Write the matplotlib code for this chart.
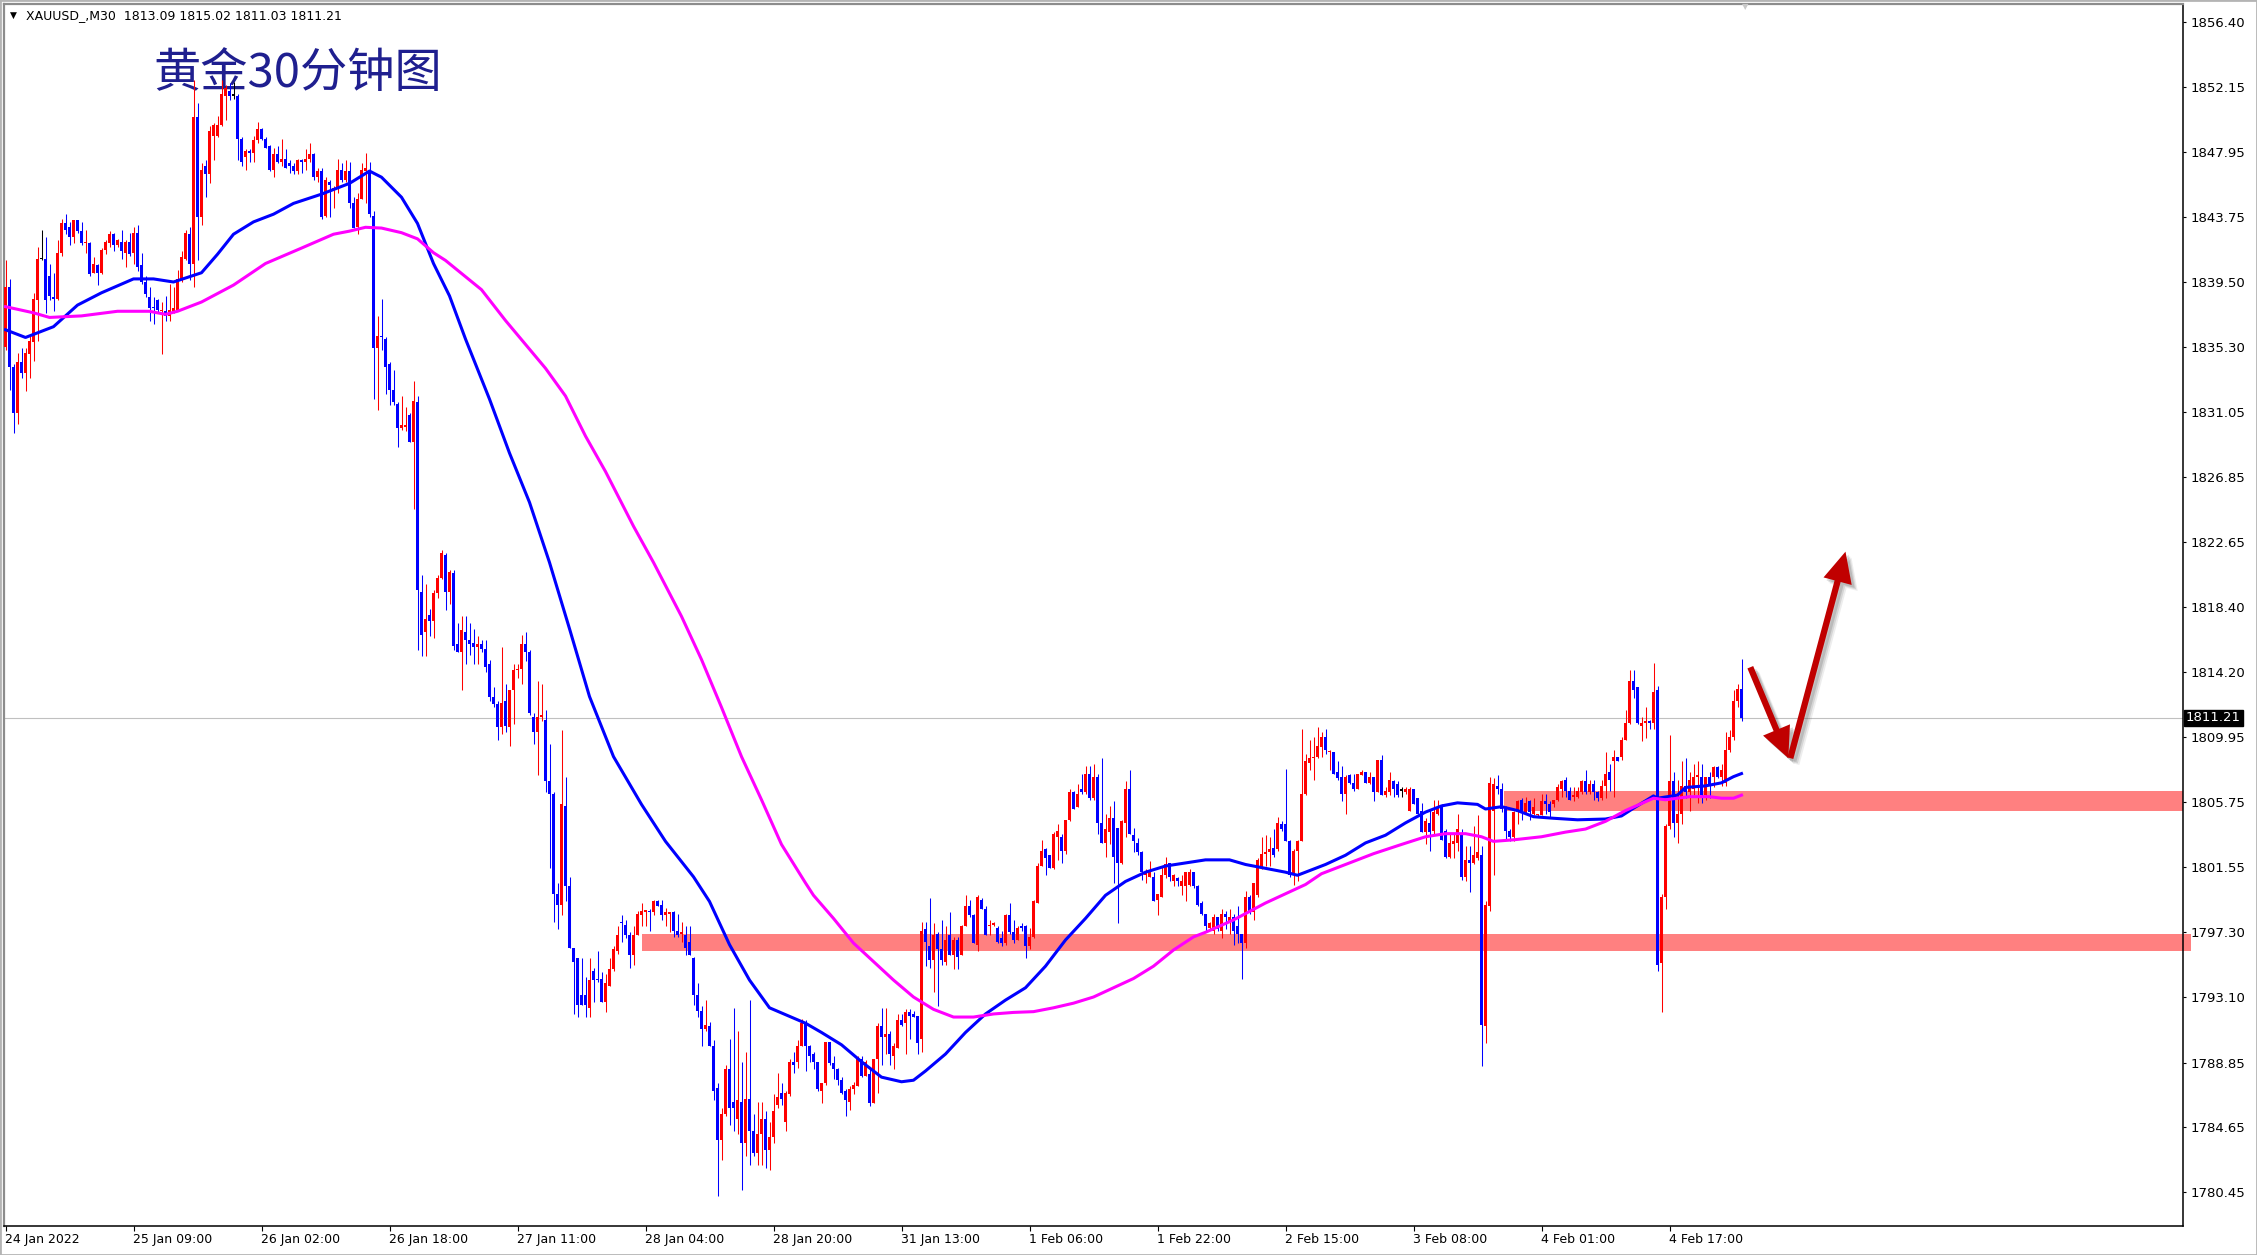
import numpy as np
import matplotlib
matplotlib.use('Agg')
import matplotlib.pyplot as plt
import matplotlib.transforms as mtransforms
from matplotlib.patches import Rectangle, FancyArrowPatch

# XAUUSD M30 bars, 24 Jan - 4 Feb 2022
opens = [
    1835.3, 1839.2, 1834.0, 1831.0, 1834.3, 1833.6, 1834.8, 1835.6, 1838.3, 1841.0,
    1841.0, 1839.9, 1838.5, 1838.4, 1841.4, 1843.3, 1843.1, 1842.4, 1843.5, 1842.8,
    1842.0, 1842.0, 1840.1, 1840.6, 1840.1, 1841.6, 1842.0, 1842.6, 1841.9, 1842.1,
    1841.4, 1842.1, 1841.4, 1842.7, 1840.6, 1839.5, 1838.5, 1837.9, 1838.3, 1837.6,
    1837.6, 1837.3, 1837.6, 1837.7, 1839.7, 1841.0, 1842.6, 1840.7, 1850.2, 1843.7,
    1847.0, 1846.5, 1849.0, 1849.0, 1849.7, 1851.6, 1851.9, 1851.6, 1851.6, 1848.8,
    1847.6, 1848.0, 1847.9, 1848.7, 1849.4, 1848.8, 1848.3, 1846.8, 1847.8, 1847.3,
    1847.5, 1847.2, 1847.0, 1846.7, 1847.4, 1847.3, 1847.5, 1847.8, 1846.3, 1846.7,
    1843.8, 1846.0, 1845.5, 1845.6, 1846.8, 1846.1, 1846.7, 1844.6, 1843.1, 1844.9,
    1846.7, 1846.8, 1843.8, 1835.2, 1836.0, 1835.8, 1834.2, 1832.5, 1831.6, 1830.0,
    1830.1, 1830.9, 1829.1, 1831.7, 1819.4, 1816.8, 1817.9, 1817.5, 1819.3, 1820.3,
    1821.8, 1819.4, 1820.6, 1816.0, 1815.5, 1816.8, 1816.3, 1816.1, 1815.8, 1816.0,
    1815.7, 1814.7, 1812.6, 1812.1, 1810.6, 1812.3, 1810.6, 1813.0, 1814.3, 1814.4,
    1816.0, 1815.5, 1811.3, 1810.3, 1811.3, 1811.1, 1807.1, 1806.3, 1799.8, 1799.1,
    1805.5, 1800.3, 1796.3, 1795.6, 1793.2, 1793.2, 1792.4, 1794.8, 1794.3, 1794.3,
    1792.8, 1793.8, 1794.9, 1796.1, 1798.0, 1797.8, 1797.1, 1795.8, 1797.1, 1798.4,
    1798.6, 1798.7, 1798.6, 1799.3, 1799.1, 1798.4, 1798.5, 1798.6, 1797.4, 1797.2,
    1797.1, 1796.7, 1795.6, 1793.2, 1792.2, 1791.0, 1791.2, 1789.9, 1787.2, 1783.8,
    1785.5, 1788.4, 1786.3, 1785.2, 1786.3, 1783.6, 1786.5, 1784.4, 1783.0, 1784.2,
    1785.2, 1783.2, 1784.0, 1786.1, 1786.9, 1785.0, 1786.8, 1788.9, 1788.9, 1789.9,
    1791.4, 1789.9, 1789.4, 1788.9, 1787.0, 1787.5, 1790.2, 1788.8, 1788.4, 1787.7,
    1787.0, 1786.3, 1787.1, 1787.3, 1789.1, 1788.0, 1788.1, 1786.2, 1789.1, 1791.2,
    1790.5, 1790.7, 1789.3, 1789.8, 1791.6, 1791.4, 1792.1, 1792.0, 1791.9, 1790.4,
    1797.5, 1796.4, 1795.5, 1797.2, 1796.2, 1795.4, 1797.1, 1795.8, 1796.8, 1795.8,
    1797.7, 1799.0, 1798.4, 1796.5, 1799.4, 1798.8, 1797.7, 1797.8, 1797.6, 1796.9,
    1796.6, 1798.4, 1797.3, 1796.8, 1797.7, 1797.7, 1796.4, 1797.0, 1799.2, 1801.6,
    1802.7, 1802.3, 1801.5, 1803.5, 1803.5, 1802.6, 1804.6, 1806.4, 1805.4, 1806.6,
    1806.4, 1807.6, 1806.0, 1807.4, 1804.4, 1803.1, 1803.8, 1804.7, 1804.1, 1801.8,
    1804.4, 1806.6, 1803.6, 1803.1, 1802.5, 1801.0, 1800.9, 1800.9, 1799.4, 1799.6,
    1801.0, 1801.8, 1800.6, 1800.8, 1800.3, 1800.3, 1800.4, 1801.2, 1800.3, 1799.2,
    1798.5, 1797.6, 1797.4, 1798.3, 1797.4, 1798.5, 1797.9, 1798.3, 1797.7, 1797.2,
    1796.6, 1799.6, 1798.6, 1799.7, 1801.6, 1802.4, 1802.5, 1802.8, 1802.7, 1804.3,
    1804.3, 1803.2, 1801.0, 1802.6, 1803.2, 1806.3, 1808.3, 1808.6, 1808.7, 1809.3,
    1810.0, 1809.0, 1809.0, 1807.7, 1807.4, 1806.3, 1807.5, 1807.0, 1806.6, 1807.5,
    1807.7, 1807.0, 1807.4, 1806.4, 1808.5, 1806.2, 1806.4, 1807.1, 1806.9, 1806.5,
    1806.4, 1805.2, 1806.6, 1806.0, 1805.2, 1803.8, 1804.4, 1803.9, 1805.0, 1805.4,
    1803.9, 1802.2, 1803.0, 1803.1, 1803.6, 1800.9, 1802.0, 1801.8, 1802.1, 1802.3,
    1791.2, 1799.0, 1805.2, 1806.8, 1806.6, 1805.3, 1803.9, 1803.5, 1805.1, 1805.9,
    1805.1, 1805.8, 1805.0, 1804.9, 1804.9, 1805.8, 1805.6, 1805.6, 1805.9, 1806.6,
    1807.2, 1806.5, 1806.1, 1806.1, 1806.4, 1807.1, 1806.4, 1806.9, 1806.4, 1806.0,
    1806.8, 1807.7, 1808.4, 1808.7, 1808.7, 1809.8, 1810.9, 1813.6, 1813.2, 1810.7,
    1810.9, 1811.0, 1810.9, 1813.0, 1795.3, 1799.6, 1804.2, 1807.1, 1804.4, 1805.0,
    1806.8, 1806.4, 1806.6, 1807.4, 1807.4, 1806.2, 1807.4, 1807.4, 1808.0, 1807.4,
    1807.0, 1809.1, 1810.0, 1812.3, 1813.09,
]
highs = [
    1840.9, 1839.7, 1834.2, 1834.9, 1835.2, 1835.2, 1836.0, 1838.8, 1841.8, 1842.9,
    1842.4, 1840.7, 1840.1, 1842.2, 1843.6, 1843.9, 1843.4, 1843.5, 1843.5, 1843.4,
    1842.9, 1842.1, 1841.1, 1840.7, 1841.7, 1842.2, 1842.8, 1842.7, 1842.3, 1842.9,
    1842.2, 1842.7, 1843.1, 1843.2, 1841.4, 1839.9, 1839.2, 1838.5, 1838.4, 1838.2,
    1838.6, 1839.4, 1839.2, 1840.3, 1841.5, 1842.9, 1843.1, 1852.6, 1851.1, 1847.2,
    1847.4, 1849.6, 1849.8, 1850.3, 1852.6, 1852.3, 1852.4, 1852.5, 1851.7, 1848.9,
    1848.1, 1848.1, 1849.0, 1849.9, 1849.5, 1848.9, 1848.4, 1848.2, 1848.3, 1848.8,
    1848.1, 1847.4, 1847.2, 1847.5, 1847.5, 1848.1, 1848.5, 1847.9, 1846.9, 1846.9,
    1846.3, 1846.1, 1845.7, 1847.5, 1847.2, 1847.4, 1847.3, 1845.0, 1845.3, 1847.2,
    1847.9, 1847.3, 1844.1, 1837.3, 1838.4, 1835.9, 1834.3, 1833.8, 1831.7, 1832.1,
    1831.4, 1831.0, 1833.1, 1832.1, 1820.5, 1819.9, 1818.3, 1819.5, 1820.5, 1822.1,
    1821.9, 1820.8, 1820.8, 1817.4, 1817.8, 1817.8, 1817.4, 1817.0, 1816.5, 1816.3,
    1816.3, 1815.0, 1813.2, 1812.3, 1815.8, 1813.4, 1813.0, 1814.7, 1814.7, 1816.6,
    1816.8, 1815.6, 1811.5, 1813.6, 1813.4, 1811.7, 1809.5, 1806.4, 1800.5, 1810.4,
    1807.4, 1800.9, 1796.3, 1795.6, 1795.6, 1794.4, 1795.6, 1795.0, 1796.1, 1794.7,
    1794.6, 1795.6, 1796.4, 1797.7, 1798.4, 1798.1, 1797.3, 1797.7, 1798.7, 1799.2,
    1798.7, 1798.8, 1799.4, 1799.4, 1799.4, 1798.9, 1798.6, 1798.7, 1798.5, 1798.0,
    1797.7, 1797.7, 1795.7, 1794.0, 1792.5, 1792.9, 1791.5, 1790.3, 1787.5, 1785.9,
    1788.7, 1790.4, 1792.4, 1790.9, 1788.9, 1789.5, 1792.9, 1785.5, 1786.3, 1786.3,
    1785.7, 1785.0, 1786.8, 1788.2, 1787.5, 1787.0, 1789.1, 1789.5, 1790.3, 1791.7,
    1791.6, 1790.0, 1789.5, 1788.9, 1787.5, 1790.2, 1790.2, 1789.3, 1788.5, 1787.9,
    1787.1, 1787.3, 1787.6, 1789.3, 1789.3, 1789.0, 1788.5, 1789.1, 1791.4, 1792.4,
    1792.4, 1790.9, 1790.1, 1792.0, 1792.0, 1792.3, 1792.3, 1792.2, 1791.9, 1798.0,
    1798.0, 1799.5, 1797.9, 1797.3, 1798.1, 1797.7, 1798.6, 1797.0, 1797.0, 1797.8,
    1799.7, 1799.4, 1798.5, 1799.7, 1799.5, 1799.0, 1798.1, 1798.0, 1797.7, 1797.4,
    1798.5, 1799.2, 1798.1, 1797.7, 1797.9, 1797.8, 1797.6, 1799.4, 1801.8, 1803.3,
    1802.8, 1802.3, 1803.8, 1804.3, 1803.7, 1804.6, 1806.6, 1806.5, 1806.9, 1807.6,
    1808.1, 1808.1, 1808.2, 1807.6, 1808.6, 1805.0, 1805.5, 1805.8, 1804.1, 1804.6,
    1807.1, 1807.8, 1804.1, 1803.4, 1802.6, 1801.4, 1801.9, 1801.2, 1799.8, 1801.6,
    1802.2, 1801.8, 1801.1, 1800.9, 1801.0, 1801.2, 1801.4, 1801.2, 1800.4, 1799.3,
    1798.5, 1798.0, 1798.5, 1798.3, 1798.8, 1798.7, 1798.8, 1798.5, 1799.0, 1797.2,
    1800.0, 1799.7, 1800.5, 1802.1, 1803.5, 1803.6, 1803.5, 1804.0, 1804.8, 1804.5,
    1807.9, 1803.3, 1802.7, 1803.3, 1810.5, 1808.9, 1809.8, 1810.0, 1810.6, 1810.3,
    1810.5, 1809.1, 1809.0, 1808.4, 1808.1, 1807.5, 1807.6, 1807.6, 1807.6, 1807.8,
    1807.7, 1807.7, 1807.4, 1808.5, 1808.8, 1806.7, 1807.7, 1807.2, 1807.1, 1806.7,
    1806.7, 1806.7, 1806.6, 1806.0, 1805.7, 1804.7, 1805.3, 1805.9, 1805.9, 1805.6,
    1804.0, 1803.7, 1803.7, 1805.0, 1804.0, 1802.9, 1802.9, 1804.2, 1804.9, 1802.9,
    1799.3, 1807.4, 1807.3, 1807.5, 1807.0, 1805.5, 1804.0, 1805.2, 1805.9, 1806.0,
    1806.1, 1805.9, 1806.0, 1805.0, 1806.3, 1806.3, 1805.8, 1805.9, 1806.9, 1807.2,
    1807.4, 1806.7, 1806.7, 1806.7, 1807.2, 1807.8, 1807.2, 1807.2, 1806.5, 1807.2,
    1809.0, 1808.2, 1809.1, 1808.7, 1810.0, 1811.7, 1814.3, 1814.3, 1813.2, 1811.3,
    1811.9, 1811.1, 1814.8, 1813.3, 1799.8, 1804.3, 1810.1, 1807.7, 1807.2, 1808.4,
    1808.6, 1807.7, 1808.2, 1808.4, 1808.2, 1807.4, 1807.7, 1808.1, 1808.1, 1808.2,
    1810.3, 1810.4, 1813.0, 1813.4, 1815.02,
]
lows = [
    1835.1, 1832.5, 1829.7, 1830.3, 1833.3, 1832.4, 1833.3, 1834.4, 1835.7, 1840.9,
    1837.5, 1838.3, 1837.6, 1838.3, 1841.2, 1842.6, 1841.9, 1842.0, 1842.7, 1841.9,
    1841.4, 1839.9, 1840.1, 1839.3, 1840.0, 1841.3, 1841.8, 1841.5, 1841.8, 1841.0,
    1840.5, 1841.2, 1840.7, 1840.2, 1839.4, 1838.5, 1837.0, 1836.8, 1837.5, 1834.8,
    1837.0, 1837.0, 1837.5, 1837.6, 1839.5, 1840.9, 1839.6, 1839.2, 1840.9, 1843.2,
    1845.0, 1845.9, 1847.4, 1848.9, 1849.6, 1850.0, 1851.3, 1851.4, 1847.4, 1847.0,
    1846.8, 1847.3, 1847.3, 1848.5, 1848.7, 1848.2, 1846.7, 1846.3, 1847.2, 1847.0,
    1846.9, 1846.6, 1846.5, 1846.5, 1846.6, 1846.8, 1847.3, 1846.1, 1846.0, 1843.6,
    1843.7, 1843.7, 1844.3, 1845.3, 1846.0, 1846.0, 1844.3, 1843.0, 1842.6, 1844.9,
    1844.6, 1843.7, 1831.9, 1831.2, 1835.1, 1832.2, 1831.5, 1831.5, 1828.8, 1829.9,
    1829.8, 1829.1, 1824.8, 1815.6, 1815.2, 1815.2, 1816.5, 1816.4, 1819.0, 1820.2,
    1818.2, 1818.6, 1815.6, 1815.5, 1813.0, 1814.7, 1815.3, 1814.7, 1814.7, 1815.5,
    1814.2, 1812.3, 1811.9, 1809.8, 1810.2, 1810.3, 1809.4, 1810.8, 1813.8, 1813.4,
    1814.9, 1811.4, 1809.5, 1807.5, 1811.0, 1806.4, 1801.5, 1798.0, 1797.5, 1798.4,
    1799.3, 1796.3, 1792.0, 1791.8, 1792.6, 1791.8, 1791.8, 1792.8, 1794.1, 1792.8,
    1792.1, 1793.8, 1794.8, 1795.9, 1796.7, 1796.9, 1795.0, 1795.2, 1797.1, 1797.7,
    1797.7, 1797.4, 1798.4, 1799.0, 1798.1, 1797.7, 1797.3, 1797.0, 1797.0, 1796.7,
    1795.8, 1795.8, 1792.6, 1791.8, 1789.9, 1790.9, 1789.9, 1786.4, 1780.2, 1782.5,
    1785.4, 1784.8, 1784.4, 1784.2, 1780.6, 1782.8, 1782.2, 1782.8, 1782.2, 1782.2,
    1782.0, 1781.9, 1783.6, 1785.9, 1786.1, 1784.4, 1786.7, 1788.2, 1788.5, 1789.9,
    1788.3, 1788.9, 1788.4, 1787.0, 1786.2, 1787.4, 1788.7, 1787.8, 1787.4, 1786.8,
    1785.4, 1785.8, 1786.8, 1787.3, 1787.9, 1788.0, 1786.0, 1786.2, 1786.9, 1788.7,
    1789.4, 1788.7, 1788.4, 1789.8, 1791.2, 1789.4, 1790.4, 1791.8, 1789.4, 1789.5,
    1795.1, 1795.0, 1793.4, 1792.5, 1795.2, 1795.2, 1795.8, 1794.9, 1794.9, 1795.8,
    1797.7, 1798.3, 1796.6, 1796.1, 1798.8, 1797.1, 1797.1, 1797.7, 1796.6, 1796.4,
    1796.5, 1797.2, 1796.6, 1796.8, 1797.4, 1795.6, 1796.2, 1796.9, 1799.2, 1801.6,
    1801.0, 1801.5, 1801.4, 1802.0, 1801.8, 1802.4, 1804.5, 1805.3, 1805.4, 1806.3,
    1806.3, 1805.9, 1805.9, 1803.7, 1803.1, 1802.2, 1803.0, 1800.5, 1797.9, 1801.7,
    1803.5, 1803.7, 1802.5, 1802.3, 1800.7, 1800.5, 1800.9, 1799.3, 1798.4, 1799.6,
    1800.8, 1800.6, 1800.3, 1800.3, 1799.7, 1799.3, 1800.3, 1800.2, 1799.0, 1798.4,
    1797.4, 1797.5, 1797.2, 1797.4, 1796.9, 1797.5, 1797.2, 1796.5, 1796.6, 1794.3,
    1796.3, 1798.5, 1798.1, 1799.6, 1801.4, 1801.6, 1801.6, 1802.2, 1802.6, 1803.9,
    1803.2, 1800.9, 1800.4, 1800.6, 1803.2, 1806.2, 1807.8, 1807.2, 1808.6, 1808.7,
    1808.9, 1807.8, 1807.6, 1807.2, 1805.8, 1805.0, 1806.9, 1806.5, 1806.6, 1807.5,
    1807.0, 1806.9, 1805.8, 1806.4, 1806.2, 1806.1, 1806.2, 1806.1, 1806.1, 1806.1,
    1806.3, 1805.2, 1805.6, 1805.0, 1803.8, 1803.0, 1802.6, 1803.7, 1804.9, 1803.3,
    1802.1, 1802.1, 1802.1, 1802.6, 1800.7, 1800.6, 1799.9, 1801.7, 1802.0, 1788.6,
    1790.1, 1798.7, 1801.0, 1806.3, 1805.1, 1803.3, 1803.2, 1803.2, 1804.3, 1804.6,
    1805.0, 1804.6, 1804.9, 1804.8, 1804.9, 1805.0, 1804.8, 1805.4, 1805.8, 1806.1,
    1806.1, 1805.9, 1805.8, 1806.0, 1806.3, 1806.3, 1806.3, 1805.9, 1805.8, 1805.9,
    1806.0, 1806.5, 1806.1, 1808.4, 1808.5, 1809.8, 1810.8, 1812.5, 1810.8, 1809.7,
    1809.9, 1810.5, 1810.5, 1794.8, 1792.1, 1798.8, 1804.0, 1803.5, 1803.1, 1804.3,
    1806.0, 1805.2, 1806.2, 1805.7, 1805.7, 1805.9, 1806.0, 1806.7, 1807.3, 1806.8,
    1806.8, 1809.0, 1809.8, 1811.9, 1811.03,
]
closes = [
    1839.2, 1834.0, 1831.0, 1834.3, 1833.6, 1834.9, 1835.7, 1838.4, 1841.0, 1841.0,
    1838.3, 1838.6, 1838.4, 1841.4, 1843.3, 1842.9, 1842.4, 1843.5, 1842.8, 1842.0,
    1842.1, 1840.0, 1840.7, 1840.1, 1841.6, 1842.1, 1842.6, 1841.9, 1842.2, 1841.5,
    1842.1, 1841.3, 1842.7, 1840.5, 1839.5, 1838.7, 1837.8, 1837.8, 1837.7, 1837.7,
    1837.3, 1837.7, 1837.8, 1839.7, 1841.1, 1842.7, 1840.7, 1850.2, 1843.7, 1846.8,
    1846.5, 1849.3, 1849.7, 1849.7, 1851.7, 1852.1, 1851.6, 1851.6, 1848.8, 1847.3,
    1848.0, 1847.9, 1848.7, 1849.4, 1848.8, 1848.2, 1846.8, 1847.8, 1847.3, 1847.5,
    1846.9, 1847.0, 1846.7, 1847.4, 1847.3, 1847.5, 1847.8, 1846.3, 1846.7, 1843.7,
    1846.1, 1845.8, 1845.6, 1846.8, 1846.1, 1846.7, 1844.6, 1843.0, 1844.9, 1846.8,
    1846.9, 1843.9, 1835.2, 1836.0, 1835.9, 1834.0, 1832.5, 1831.7, 1830.0, 1830.2,
    1830.2, 1829.1, 1831.8, 1819.5, 1816.6, 1817.6, 1817.5, 1819.3, 1820.3, 1821.9,
    1819.4, 1820.7, 1815.9, 1815.5, 1816.9, 1816.3, 1816.0, 1815.8, 1816.0, 1815.7,
    1814.5, 1812.6, 1812.1, 1810.6, 1812.2, 1810.7, 1813.0, 1814.3, 1814.4, 1816.0,
    1815.5, 1811.5, 1810.3, 1811.3, 1811.4, 1807.1, 1806.3, 1799.8, 1799.1, 1805.6,
    1800.3, 1796.3, 1795.4, 1792.6, 1792.6, 1792.6, 1794.2, 1794.2, 1794.2, 1792.8,
    1794.0, 1794.9, 1796.2, 1797.1, 1797.9, 1797.1, 1795.8, 1797.1, 1798.5, 1798.7,
    1798.75, 1798.6, 1799.3, 1799.0, 1798.4, 1798.6, 1798.6, 1797.4, 1797.1, 1797.3,
    1796.3, 1795.8, 1793.2, 1792.2, 1791.0, 1791.3, 1789.9, 1787.0, 1783.8, 1785.5,
    1788.4, 1785.9, 1785.9, 1786.4, 1783.6, 1786.5, 1784.4, 1783.0, 1784.2, 1785.2,
    1783.2, 1784.0, 1785.7, 1786.6, 1786.5, 1786.9, 1788.9, 1788.7, 1789.9, 1791.4,
    1789.9, 1789.3, 1788.9, 1787.1, 1787.5, 1790.2, 1788.8, 1788.4, 1787.7, 1786.9,
    1786.4, 1787.1, 1787.4, 1789.1, 1788.0, 1788.9, 1786.2, 1789.1, 1791.2, 1790.5,
    1790.7, 1789.4, 1789.9, 1791.6, 1791.3, 1792.1, 1791.9, 1791.8, 1790.1, 1797.4,
    1796.7, 1795.5, 1797.1, 1796.2, 1795.5, 1796.8, 1795.8, 1796.8, 1795.7, 1797.7,
    1799.0, 1798.4, 1796.6, 1799.6, 1798.8, 1797.1, 1797.8, 1797.9, 1796.7, 1796.6,
    1798.4, 1797.3, 1796.8, 1797.6, 1797.6, 1796.4, 1797.0, 1799.3, 1801.6, 1802.6,
    1802.1, 1801.5, 1803.7, 1803.9, 1802.6, 1804.6, 1806.4, 1805.3, 1806.3, 1806.4,
    1807.6, 1806.0, 1807.4, 1804.4, 1803.1, 1804.0, 1804.7, 1802.2, 1801.8, 1804.5,
    1806.6, 1803.7, 1803.2, 1802.5, 1801.2, 1801.2, 1801.3, 1799.3, 1799.8, 1801.0,
    1801.7, 1800.9, 1801.0, 1800.6, 1800.6, 1801.2, 1801.2, 1800.3, 1799.1, 1798.5,
    1797.7, 1797.9, 1798.3, 1797.5, 1798.5, 1798.3, 1798.3, 1797.4, 1797.2, 1796.6,
    1799.6, 1798.6, 1800.5, 1802.0, 1802.4, 1802.5, 1802.7, 1802.3, 1804.4, 1804.0,
    1803.2, 1801.0, 1802.6, 1803.2, 1806.3, 1808.4, 1808.6, 1808.7, 1809.4, 1810.0,
    1809.1, 1809.05, 1807.6, 1807.3, 1806.3, 1807.4, 1807.0, 1806.6, 1807.6, 1807.7,
    1807.0, 1807.4, 1806.4, 1808.5, 1806.2, 1806.5, 1807.2, 1806.6, 1806.2, 1806.5,
    1806.6, 1806.6, 1805.6, 1805.0, 1803.8, 1804.5, 1803.8, 1805.1, 1805.4, 1803.3,
    1802.2, 1803.1, 1803.2, 1804.0, 1800.9, 1802.0, 1801.8, 1802.3, 1802.5, 1791.3,
    1799.1, 1807.0, 1806.9, 1806.6, 1805.3, 1803.9, 1803.5, 1805.1, 1805.8, 1805.1,
    1805.7, 1805.1, 1805.4, 1804.95, 1805.8, 1805.6, 1805.1, 1805.9, 1806.7, 1807.1,
    1806.5, 1805.9, 1806.2, 1806.5, 1807.1, 1806.4, 1806.9, 1806.4, 1806.0, 1806.8,
    1807.6, 1807.2, 1808.7, 1808.4, 1809.8, 1810.9, 1813.6, 1813.0, 1810.9, 1810.9,
    1811.0, 1810.9, 1812.9, 1795.2, 1799.6, 1804.2, 1807.1, 1804.4, 1805.0, 1806.8,
    1806.4, 1807.2, 1807.4, 1807.5, 1806.2, 1807.4, 1806.8, 1808.0, 1807.4, 1807.8,
    1809.1, 1810.0, 1812.3, 1813.1, 1811.21,
]

# moving averages (blue = fast, magenta = slow), sampled at bar indices
fast_ma_idx = [0, 5, 12, 18, 24, 32, 37, 42, 49, 53, 57, 62, 67, 72, 79, 86, 91, 94, 99, 103,
               107, 111, 115, 121, 126, 131, 136, 141, 146, 152, 159, 165, 172, 176, 181, 186,
               191, 200, 204, 209, 214, 219, 224, 227, 230, 235, 240, 245, 250, 255, 260, 265,
               270, 275, 280, 285, 290, 295, 300, 306, 310, 315, 320, 323, 326, 330, 335, 340,
               345, 350, 355, 359, 363, 368, 370, 374, 378, 382, 387, 393, 400, 404, 407, 412,
               413, 418, 420, 425, 429, 432, 434]
fast_ma_val = [1836.4, 1835.9, 1836.6, 1838.0, 1838.8, 1839.7, 1839.7, 1839.5, 1840.1, 1841.3,
               1842.6, 1843.4, 1843.9, 1844.6, 1845.2, 1845.9, 1846.7, 1846.3, 1845.0, 1843.3,
               1840.7, 1838.6, 1835.8, 1831.9, 1828.4, 1825.2, 1821.3, 1817.0, 1812.6, 1808.7,
               1805.6, 1803.2, 1800.9, 1799.3, 1796.5, 1794.2, 1792.4, 1791.4, 1790.8, 1790.0,
               1788.9, 1787.9, 1787.6, 1787.7, 1788.3, 1789.4, 1790.8, 1792.0, 1792.9, 1793.7,
               1795.1, 1796.8, 1798.2, 1799.7, 1800.6, 1801.2, 1801.6, 1801.8, 1802.0, 1802.0,
               1801.7, 1801.45, 1801.2, 1801.0, 1801.3, 1801.7, 1802.3, 1803.1, 1803.6, 1804.4,
               1805.1, 1805.5, 1805.7, 1805.6, 1805.3, 1805.45, 1805.2, 1804.8, 1804.7, 1804.6,
               1804.65, 1804.85, 1805.35, 1806.15, 1806.0, 1806.2, 1806.7, 1806.8, 1807.0, 1807.4,
               1807.6]
slow_ma_idx = [0, 7, 11, 19, 28, 36, 40, 43, 49, 57, 65, 74, 82, 86, 90, 94, 99, 103, 107, 110,
               119, 125, 135, 140, 145, 150, 157, 162, 169, 174, 179, 184, 189, 194, 200, 202,
               207, 212, 217, 222, 227, 232, 237, 242, 247, 252, 257, 262, 267, 272, 277, 282,
               287, 292, 297, 300, 307, 315, 325, 329, 335, 342, 349, 355, 360, 365, 369, 372,
               377, 384, 390, 395, 400, 405, 412, 415, 421, 426, 429, 432, 434]
slow_ma_val = [1837.9, 1837.5, 1837.2, 1837.3, 1837.6, 1837.6, 1837.4, 1837.6, 1838.2, 1839.3,
               1840.7, 1841.7, 1842.6, 1842.8, 1843.05, 1843.0, 1842.7, 1842.3, 1841.4, 1840.9,
               1839.0, 1837.0, 1833.9, 1832.1, 1829.5, 1827.2, 1823.65, 1821.3, 1817.8, 1815.0,
               1811.9, 1808.7, 1805.9, 1803.0, 1800.5, 1799.7, 1798.2, 1796.6, 1795.4, 1794.2,
               1793.1, 1792.3, 1791.8, 1791.8, 1792.0, 1792.1, 1792.15, 1792.4, 1792.7, 1793.1,
               1793.7, 1794.3, 1795.1, 1796.15, 1797.0, 1797.3, 1798.1, 1799.2, 1800.4, 1801.1,
               1801.7, 1802.4, 1803.0, 1803.5, 1803.7, 1803.7, 1803.5, 1803.2, 1803.3, 1803.5,
               1803.8, 1804.0, 1804.5, 1805.2, 1806.0, 1805.9, 1806.1, 1806.1, 1806.0, 1806.0,
               1806.2]

# support zones (price range, first bar)
zone_upper = (1805.2, 1806.5)
zone_upper_start = 374.5
zone_lower = (1796.1, 1797.2)
zone_lower_start = 159.2

last_price = 1811.21
header = 'XAUUSD_,M30  1813.09 1815.02 1811.03 1811.21'
title = '黄金30分钟图'

ytick_vals = [1856.40, 1852.15, 1847.95, 1843.75, 1839.50, 1835.30, 1831.05, 1826.85,
              1822.65, 1818.40, 1814.20, 1809.95, 1805.75, 1801.55, 1797.30, 1793.10,
              1788.85, 1784.65, 1780.45]
xtick_bars = [0, 32, 64, 96, 128, 160, 192, 224, 256, 288, 320, 352, 384, 416]
xtick_labels = ['24 Jan 2022', '25 Jan 09:00', '26 Jan 02:00', '26 Jan 18:00',
                '27 Jan 11:00', '28 Jan 04:00', '28 Jan 20:00', '31 Jan 13:00',
                '1 Feb 06:00', '1 Feb 22:00', '2 Feb 15:00', '3 Feb 08:00',
                '4 Feb 01:00', '4 Feb 17:00']

# hand drawn arrows: (bar, price) start -> end
arrows = [((436.2, 1814.5), (445.7, 1808.6)),
          ((446.2, 1808.6), (460.0, 1822.0))]

W, H = 2257, 1255
PLOT_W, PLOT_H = 2179, 1222   # plot box in pixels: x 4..2183, y 4..1226
fig = plt.figure(figsize=(W / 100, H / 100), dpi=100)
fig.patch.set_facecolor('white')

ax = fig.add_axes([4 / W, 29 / H, PLOT_W / W, PLOT_H / H])
ax.set_facecolor('white')
ax.set_xlim(-0.375, -0.375 + PLOT_W / 4)
ax.set_ylim(1778.24, 1857.54)

o = np.array(opens)
h = np.array(highs)
l = np.array(lows)
c = np.array(closes)
x = np.arange(len(o))

colors = np.where(c > o, '#ff0000', np.where(c < o, '#0000ff', '#000000'))
ax.vlines(x, l, h, colors=colors, lw=0.75, zorder=3)
ax.bar(x, np.maximum(np.abs(c - o), 0.07), width=0.75, bottom=np.minimum(o, c),
       color=colors, lw=0, zorder=3)

ax.plot(fast_ma_idx, fast_ma_val, color='#0000ff', lw=2.2, zorder=4, solid_joinstyle='round')
ax.plot(slow_ma_idx, slow_ma_val, color='#ff00ff', lw=2.2, zorder=4, solid_joinstyle='round')

xmax = ax.get_xlim()[1]
ax.add_patch(Rectangle((zone_upper_start, zone_upper[0]), xmax - zone_upper_start,
                       zone_upper[1] - zone_upper[0], fc='#ff8080', ec='none', zorder=1))
ax.add_patch(Rectangle((zone_lower_start, zone_lower[0]), xmax + 2 - zone_lower_start,
                       zone_lower[1] - zone_lower[0], fc='#ff8080', ec='none', zorder=1,
                       clip_on=False))

ax.axhline(last_price, color='#c0c0c0', lw=0.8, zorder=1.5)

# arrows with a soft shadow
style = 'simple,head_length=22,head_width=21,tail_width=4.5'
for start, end in arrows:
    for k, a in [(6, 0.10), (4.5, 0.15), (3, 0.2)]:
        tr = ax.transData + mtransforms.ScaledTranslation(k / 100, -k / 100, fig.dpi_scale_trans)
        ax.add_patch(FancyArrowPatch(start, end, arrowstyle=style, mutation_scale=1,
                                     transform=tr, color='#505050', alpha=a, lw=0,
                                     shrinkA=0, shrinkB=0, zorder=5, clip_on=False))
    ax.add_patch(FancyArrowPatch(start, end, arrowstyle=style, mutation_scale=1,
                                 color='#c00000', lw=0, shrinkA=0, shrinkB=0, zorder=6,
                                 clip_on=False))

# frame
for side in ['top', 'left']:
    ax.spines[side].set_color('#8c8c8c')
    ax.spines[side].set_linewidth(1.6)
for side in ['right', 'bottom']:
    ax.spines[side].set_color('black')
    ax.spines[side].set_linewidth(1.1)

ax.yaxis.tick_right()
ax.set_yticks(ytick_vals)
ax.set_yticklabels([f'{v:.2f}' for v in ytick_vals])
ax.tick_params(axis='y', direction='out', length=2.5, width=0.8, pad=3, labelsize=9.5,
               colors='black')
ax.set_xticks(xtick_bars)
ax.tick_params(axis='x', direction='out', length=3.5, width=0.8, labelbottom=False)
xtr = mtransforms.blended_transform_factory(ax.transData, ax.transAxes)
for b, lbl in zip(xtick_bars, xtick_labels):
    ax.text(b - 0.2, -7 / PLOT_H, lbl, transform=xtr, ha='left', va='top', fontsize=9,
            color='black')

# current price tag
ytr = mtransforms.blended_transform_factory(ax.transAxes, ax.transData)
ax.text(1 + 3 / PLOT_W, last_price, f'{last_price:.2f}', transform=ytr, ha='left',
        va='center', fontsize=9.5, color='white', clip_on=False, zorder=7,
        bbox=dict(boxstyle='square,pad=0.12', fc='black', ec='black'))

# title (behind the candles)
ax.text((153 - 4) / PLOT_W, (1226 - 74) / PLOT_H, title, transform=ax.transAxes,
        ha='left', va='center', fontsize=34, color='#1f1f8f', zorder=2, fontweight='light',
        family=['Noto Sans CJK SC', 'DejaVu Sans'])

# header line
fig.text(13 / W, 1 - 15 / H, '▼', ha='center', va='center', fontsize=6.5, color='black')
fig.text(26 / W, 1 - 16 / H, header, ha='left', va='center', fontsize=9, color='black')
fig.text(1745 / W, 1 - 7 / H, '▼', ha='center', va='center', fontsize=6, color='#c8c8c8')

fig.patches.append(Rectangle((0, 0), 1, 1, transform=fig.transFigure, fill=False,
                             ec='#b4b4b4', lw=2))

fig.savefig('out.png', dpi=100)
